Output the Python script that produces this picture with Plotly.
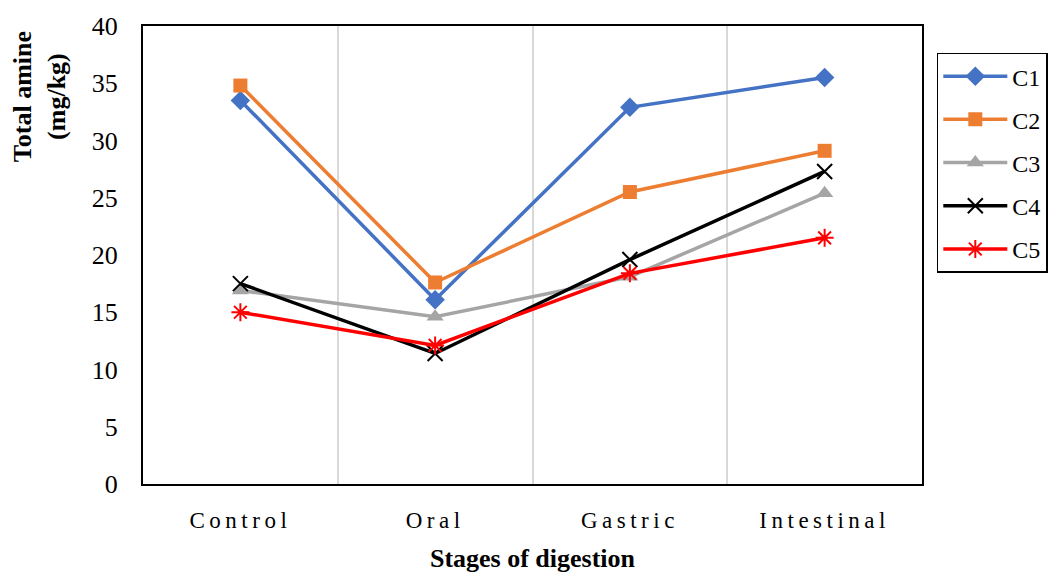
import plotly.graph_objects as go

stages = ["Control", "Oral", "Gastric", "Intestinal"]
c1 = [33.5, 16.1, 32.9, 35.5]
c2 = [34.8, 17.6, 25.5, 29.1]
c3 = [16.9, 14.6, 18.1, 25.4]
c4 = [17.5, 11.4, 19.6, 27.3]
c5 = [15.0, 12.1, 18.4, 21.5]
y_ticks = [0, 5, 10, 15, 20, 25, 30, 35, 40]

FONT = "Liberation Serif"

series = [
    ("C1", c1, "#4472C4", dict(symbol="diamond", size=15, color="#4472C4")),
    ("C2", c2, "#ED7D31", dict(symbol="square", size=14, color="#ED7D31")),
    ("C3", c3, "#A5A5A5", dict(symbol="triangle-up", size=15, color="#A5A5A5")),
    ("C4", c4, "#000000", dict(symbol="x-thin-open", size=15,
                               line=dict(color="#000000", width=2))),
    ("C5", c5, "#FF0000", dict(symbol="asterisk-open", size=15,
                               line=dict(color="#FF0000", width=2))),
]

fig = go.Figure()
for name, vals, color, marker in series:
    fig.add_trace(go.Scatter(
        x=stages, y=vals, name=name, mode="lines+markers",
        line=dict(color=color, width=3.5), marker=marker,
        legendgroup=name,
    ))

fig.update_layout(
    width=1048, height=573,
    margin=dict(l=143, r=126, t=26, b=89, autoexpand=False),
    paper_bgcolor="white", plot_bgcolor="white",
    font=dict(family=FONT, color="#000000", size=24),
    showlegend=True,
    legend=dict(
        x=1.019, y=0.942, xanchor="left", yanchor="top",
        bordercolor="#000000", borderwidth=1.5,
        font=dict(family=FONT, size=24, color="#000000"),
        tracegroupgap=9, traceorder="grouped", itemwidth=64,
    ),
    xaxis=dict(
        type="category", tickson="boundaries", range=[-0.5, 3.5],
        automargin=False,
        showgrid=True, gridcolor="#D9D9D9", gridwidth=1.5,
        showline=True, linecolor="#000000", linewidth=2, mirror=True,
        ticks="", ticklabelstandoff=14,
        tickfont=dict(family=FONT, size=23),
        title=dict(text="<b>Stages of digestion</b>", standoff=22,
                   font=dict(family=FONT, size=26)),
    ),
    yaxis=dict(
        range=[0, 40], tickvals=y_ticks, automargin=False,
        showgrid=False, zeroline=False,
        showline=True, linecolor="#000000", linewidth=2, mirror=True,
        ticks="", ticklabelstandoff=18,
        tickfont=dict(family=FONT, size=26),
    ),
    annotations=[dict(
        text="<b>Total amine<br>(mg/kg)</b>", textangle=-90,
        xref="paper", yref="paper", x=-0.132, y=0.845,
        xanchor="center", yanchor="middle", showarrow=False,
        font=dict(family=FONT, size=26, color="#000000"),
    )],
)

# spaced-out lettering on the stage labels
spacing_js = (
    "document.querySelectorAll('.xtick text').forEach(function(t){"
    "t.style.letterSpacing='4.5px';});"
)
fig.write_html("out.html", post_script=spacing_js)
